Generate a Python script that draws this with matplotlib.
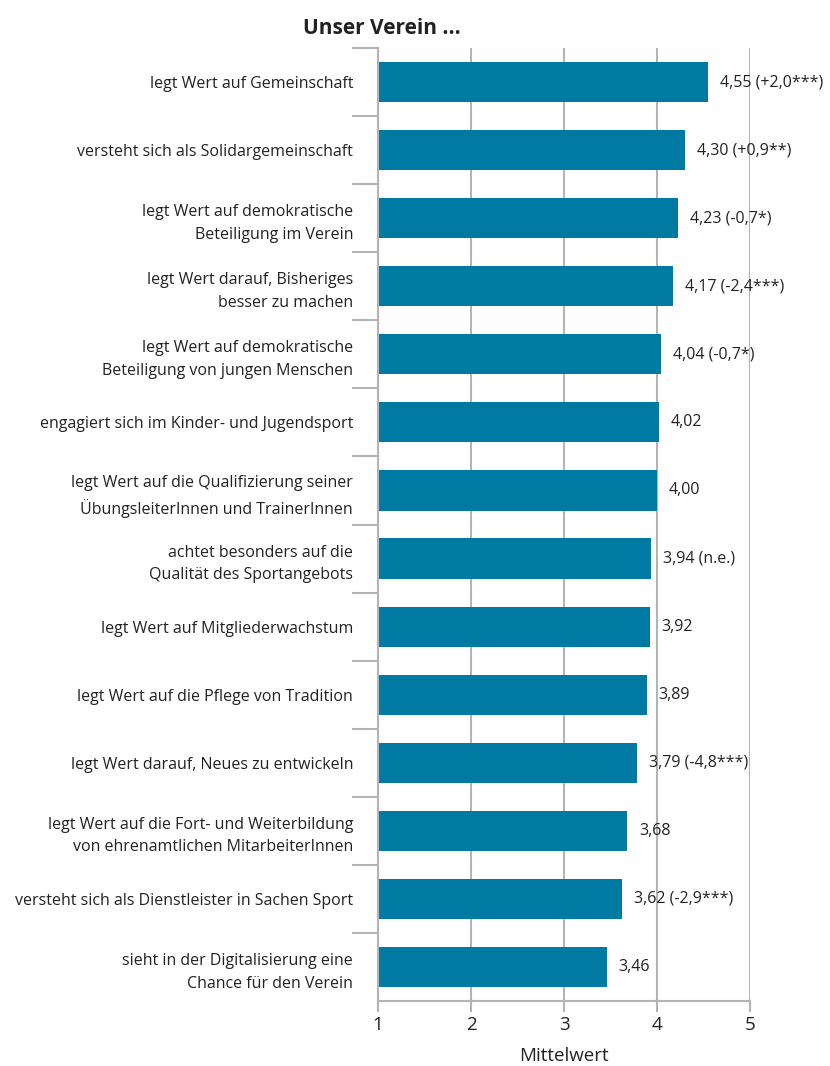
import matplotlib
matplotlib.use("Agg")
import matplotlib.pyplot as plt

plt.rcParams['font.family'] = ['Open Sans', 'DejaVu Sans']

# Data values
labels = [
    "legt Wert auf Gemeinschaft",
    "versteht sich als Solidargemeinschaft",
    "legt Wert auf demokratische\nBeteiligung im Verein",
    "legt Wert darauf, Bisheriges\nbesser zu machen",
    "legt Wert auf demokratische\nBeteiligung von jungen Menschen",
    "engagiert sich im Kinder- und Jugendsport",
    "legt Wert auf die Qualifizierung seiner\nÜbungsleiterInnen und TrainerInnen",
    "achtet besonders auf die\nQualität des Sportangebots",
    "legt Wert auf Mitgliederwachstum",
    "legt Wert auf die Pflege von Tradition",
    "legt Wert darauf, Neues zu entwickeln",
    "legt Wert auf die Fort- und Weiterbildung\nvon ehrenamtlichen MitarbeiterInnen",
    "versteht sich als Dienstleister in Sachen Sport",
    "sieht in der Digitalisierung eine\nChance für den Verein",
]
values = [4.55, 4.30, 4.23, 4.17, 4.04, 4.02, 4.00, 3.94, 3.92, 3.89, 3.79, 3.68, 3.62, 3.46]
changes = ["(+2,0***)", "(+0,9**)", "(-0,7*)", "(-2,4***)", "(-0,7*)", "", "",
           "(n.e.)", "", "", "(-4,8***)", "", "(-2,9***)", ""]

bar_color = "#007aa3"
grid_color = "#b4b4b8"
text_color = "#222222"

fig = plt.figure(figsize=(8.3, 10.66), dpi=100)
ax = fig.add_axes([378 / 830, 1 - 1001 / 1066, 372 / 830, 953 / 1066])

y = list(range(len(labels)))
ax.barh(y, [v - 1 for v in values], left=1, height=0.59, color=bar_color, zorder=2)

for yi, v, c in zip(y, values, changes):
    txt = f"{v:.2f}".replace(".", ",")
    if c:
        txt += " " + c
    ax.annotate(txt, (v, yi), xytext=(12, 0), textcoords="offset pixels",
                va="center", ha="left", fontsize=11.5, color=text_color, zorder=3)

ax.set_xlim(1, 5)
ax.set_ylim(len(labels) - 0.5, -0.5)
ax.set_xticks([1, 2, 3, 4, 5])
ax.set_xticklabels(["1", "2", "3", "4", "5"], fontsize=13.5, color=text_color)
ax.set_yticks(y)
ax.set_yticklabels(labels, fontsize=11.5, color=text_color, linespacing=1.55)
ax.set_yticks([i - 0.5 for i in range(len(labels))], minor=True)

ax.tick_params(axis="y", which="major", length=0, pad=18)
ax.tick_params(axis="y", which="minor", length=19, width=1.5, color=grid_color, direction="out")
ax.tick_params(axis="x", which="major", length=8, width=1.5, color=grid_color, pad=3)

ax.xaxis.grid(True, color=grid_color, linewidth=1.5, zorder=0)
ax.set_axisbelow(True)
for side in ["top", "right"]:
    ax.spines[side].set_visible(False)
for side in ["left", "bottom"]:
    ax.spines[side].set_color(grid_color)
    ax.spines[side].set_linewidth(1.5)

ax.set_xlabel("Mittelwert", fontsize=13.5, color=text_color, labelpad=9)

fig.text(303 / 830, 1 - 28 / 1066, "Unser Verein ...", fontsize=15, fontweight="bold",
         color=text_color, ha="left", va="center")

plt.savefig("out.png", dpi=100)
